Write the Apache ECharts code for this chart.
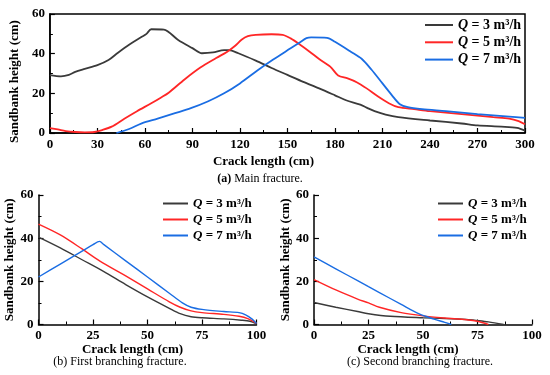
<!DOCTYPE html>
<html>
<head>
<meta charset="utf-8">
<script src="https://cdn.jsdelivr.net/npm/echarts@6/dist/echarts.min.js"></script>
<style>html,body{margin:0;padding:0;background:#fff}#c{width:550px;height:375px}</style>
</head>
<body>
<div id="c"></div>
<script>
// ---- data ----
const seriesNames = ['Q = 3 m³/h', 'Q = 5 m³/h', 'Q = 7 m³/h'];
const flows = ['3', '5', '7'];
const captions = ['Main fracture.', 'First branching fracture.', 'Second branching fracture.'];
const captionTags = ['(a)', '(b)', '(c)'];
const mainXTicks = [0, 30, 60, 90, 120, 150, 180, 210, 240, 270, 300];
const branchXTicks = [0, 25, 50, 75, 100];
const yTicks = [0, 20, 40, 60];

// (a) Main fracture  [crack length cm, sandbank height cm]
const main_q3 = [[0,29.2],[7,28.6],[12,29.3],[16,30.8],[22,32.3],[30,34.2],[37,36.8],[43,40.5],[50,44.5],[58,48.5],[61,50],[64,52.3],[72,52.1],[81,46.9],[90,42.8],[96,40.2],[103,40.6],[110,41.8],[113,41.8],[119,40.2],[130,36.5],[140,32.8],[150,29.3],[160,25.8],[170,22.5],[180,19],[187,16.5],[196,14.3],[200,12.8],[205,11],[212,9.3],[220,8],[240,6.3],[260,4.8],[270,3.8],[285,3.2],[295,2.6],[300,1.2]];
const main_q5 = [[0,2.5],[5,1.8],[10,1.0],[16,0.5],[22,0.3],[28,0.5],[33,1.5],[39,3.2],[47,7.2],[55,11],[64,15],[70,17.8],[75,20.3],[85,27],[95,33],[105,37.8],[112,41],[117,44],[121,47],[125,48.8],[130,49.5],[140,49.8],[147,49.5],[152,47.7],[158,44.5],[164,41],[170,37.3],[177,33.5],[182,29],[188,27.5],[194,25.5],[200,22.5],[207,18.5],[214,15],[220,13],[230,12],[240,11],[260,9.5],[280,8],[290,7.3],[296,6],[300,4.4]];
const main_q7 = [[42,0],[50,2],[58,4.9],[68,7.3],[79,10],[89,12.5],[100,16],[110,20],[120,25],[131,31.5],[141,37],[152,42.7],[158,45.8],[162,47.8],[165,48.2],[175,48],[180,46],[190,41],[197,37.3],[203,32],[210,25],[216,19],[221,14.5],[226,13],[235,12],[250,11],[270,9.5],[290,8.3],[300,7.6]];

// (b) First branching fracture
const b1_q3 = [[0,40.5],[10,35.5],[20,30],[30,24.5],[40,18.5],[50,12.8],[60,7.5],[65,5],[70,3.6],[75,3.1],[85,2.6],[93,2],[97,1.5],[100,0.3]];
const b1_q5 = [[0,46.5],[10,41.5],[20,35],[28,29.5],[40,22.5],[50,16.5],[60,10.5],[65,8],[70,6.3],[75,5.5],[85,4.7],[92,3.8],[96,2.7],[100,0.5]];
const b1_q7 = [[0,22],[10,28],[20,34],[25,37],[28,38.5],[30,37],[40,29.5],[50,22],[60,14.5],[66,10],[70,8],[75,7],[85,6],[92,5.5],[95,4.5],[98,2.5],[100,0.5]];

// (c) Second branching fracture
const b2_q3 = [[0,10.2],[10,8],[20,6],[25,5],[35,3.8],[50,3.1],[60,2.8],[70,2.3],[75,1.8],[80,1.2],[87,0]];
const b2_q5 = [[0,20.8],[10,16],[20,11.8],[25,10],[30,8],[40,5.5],[50,4],[60,3],[70,2.2],[75,1.5],[80,0]];
const b2_q7 = [[0,31.3],[10,25.8],[20,20.3],[25,17.5],[30,14.8],[40,9.3],[48,5],[55,2.5],[60,1],[63,0]];

// ---- styling ----
const colors = ['#3a3a3a', '#ff2626', '#1a6de3'];
const serif = 'Liberation Serif';

const chart = echarts.init(document.getElementById('c'));

const grids = [
  {left: 48, top: 14, width: 477, height: 119, show: true, borderColor: '#000', borderWidth: 1.5},
  {left: 38.5, top: 195, width: 218, height: 129.5},
  {left: 314, top: 195, width: 218, height: 129.5}
];
const xMax = [300, 100, 100];
const xInt = [30, 25, 25];
const xNamePad = [[0, 48, 0, 0], [0, 30, 0, 0], [0, 30, 0, 0]];
const xNameGap = [22, 17, 17];
const yNameGap = [22.5, 20, 20.5];
const yNamePad = [[0, 16, 0, 0], [0, 0, 0, 0], [0, 0, 0, 0]];

const axisCommon = {
  axisLine: {show: true, onZero: false, lineStyle: {color: '#000', width: 1.5}},
  axisTick: {show: true, inside: true, length: 5, lineStyle: {color: '#000', width: 1.2}},
  minorTick: {show: true, splitNumber: 2, length: 3, lineStyle: {color: '#000', width: 1}},
  splitLine: {show: false},
  axisLabel: {color: '#000', fontFamily: serif, fontWeight: 'bold', fontSize: 13, margin: 5},
  nameTextStyle: {color: '#000', fontFamily: serif, fontWeight: 'bold', fontSize: 13}
};

const xAxes = [0, 1, 2].map(i => Object.assign({}, JSON.parse(JSON.stringify(axisCommon)), {
  type: 'value', gridIndex: i, min: 0, max: xMax[i], interval: xInt[i],
  name: 'Crack length (cm)', nameLocation: 'middle', nameGap: xNameGap[i],
  nameTextStyle: Object.assign({}, axisCommon.nameTextStyle, {padding: xNamePad[i]})
}));
const yAxes = [0, 1, 2].map(i => Object.assign({}, JSON.parse(JSON.stringify(axisCommon)), {
  type: 'value', gridIndex: i, min: 0, max: 60, interval: 20,
  name: 'Sandbank height (cm)', nameLocation: 'middle', nameGap: yNameGap[i], nameRotate: 90,
  nameTextStyle: Object.assign({}, axisCommon.nameTextStyle, {padding: yNamePad[i]})
}));

const dataSets = [[main_q3, main_q5, main_q7], [b1_q3, b1_q5, b1_q7], [b2_q3, b2_q5, b2_q7]];
const series = [];
dataSets.forEach((set, g) => {
  set.forEach((d, k) => {
    series.push({
      type: 'line', name: seriesNames[k], xAxisIndex: g, yAxisIndex: g,
      data: d, showSymbol: false, symbol: 'none', smooth: 0.3,
      lineStyle: {color: colors[k], width: g === 0 ? 1.8 : 1.4},
      itemStyle: {color: colors[k]}, emphasis: {disabled: true}
    });
  });
});

const legendRich = {
  q: {fontFamily: serif, fontWeight: 'bold', fontStyle: 'italic', color: '#000'},
  t: {fontFamily: serif, fontWeight: 'bold', color: '#000'}
};
function legendFmt(name) {
  const idx = seriesNames.indexOf(name);
  return '{q|Q}{t| = ' + flows[idx] + ' m³/h}';
}
function makeLegend(left, top, size, gap, w) {
  const rich = {
    q: Object.assign({}, legendRich.q, {fontSize: size, lineHeight: size + 1}),
    t: Object.assign({}, legendRich.t, {fontSize: size, lineHeight: size + 1})
  };
  return {
    orient: 'vertical', left: left, top: top, itemWidth: w, itemHeight: 2, itemGap: gap,
    icon: 'rect', padding: 0, selectedMode: false,
    data: seriesNames, formatter: legendFmt,
    textStyle: {fontFamily: serif, fontWeight: 'bold', fontSize: size, color: '#000', rich: rich}
  };
}
const legends = [
  makeLegend(425, 18, 14, 3.3, 28),
  makeLegend(163, 197, 13, 3, 25),
  makeLegend(438, 197, 13, 3, 25)
];

const captionPos = [[260, 179], [120, 362], [420, 362]];
const graphics = captionPos.map((p, i) => ({
  type: 'text', x: p[0], y: p[1],
  style: {
    text: '{b|' + captionTags[i] + '} ' + captions[i],
    x: 0, y: 0, align: 'center', verticalAlign: 'middle',
    font: '12px "' + serif + '"', fill: '#000',
    rich: {b: {fontFamily: serif, fontSize: 12, fontWeight: i === 0 ? 'bold' : 'normal', fill: '#000'}}
  }
}));

chart.setOption({
  animation: false,
  backgroundColor: '#fff',
  grid: grids,
  xAxis: xAxes,
  yAxis: yAxes,
  legend: legends,
  series: series,
  graphic: graphics
});
</script>
</body>
</html>
